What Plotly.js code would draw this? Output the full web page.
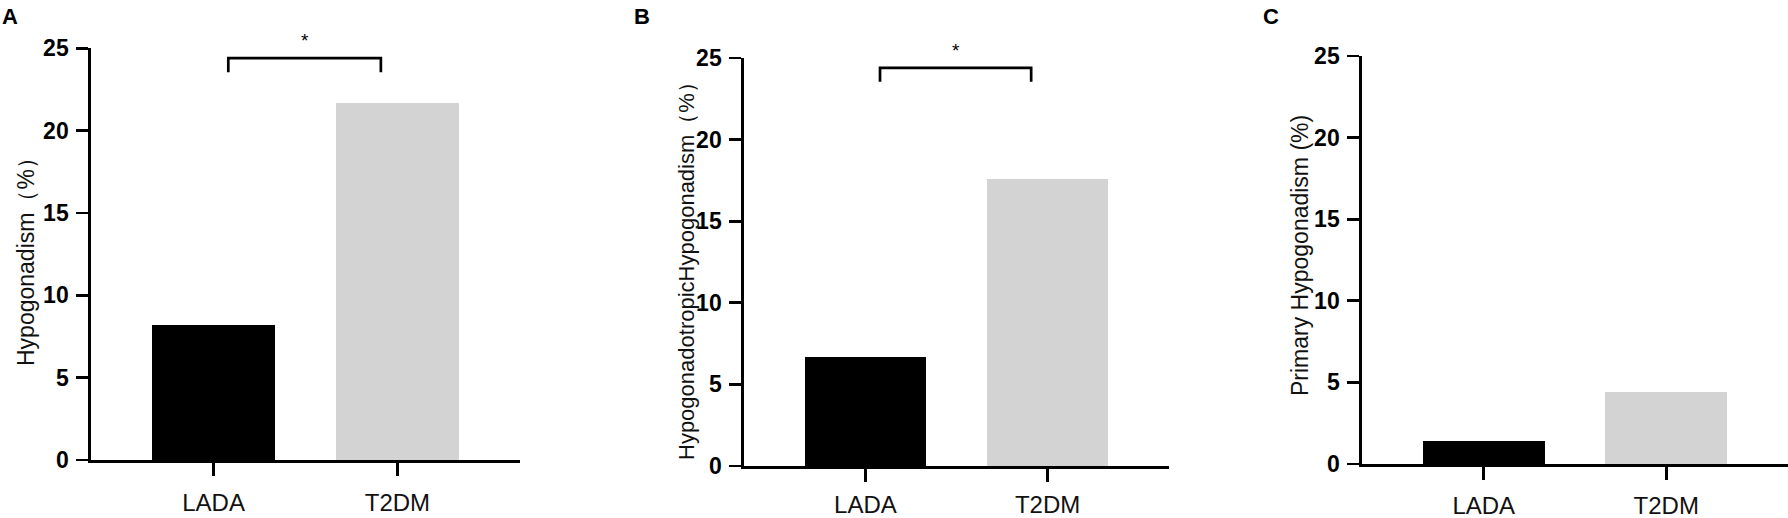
<!DOCTYPE html>
<html>
<head>
<meta charset="utf-8">
<script src="https://cdn.plot.ly/plotly-3.0.1.min.js"></script>
<style>
  html, body { margin: 0; padding: 0; background: #ffffff; }
  #chart { width: 1788px; height: 518px; }
</style>
</head>
<body>
<div id="chart"></div>
<script>
// ---- data ----
const categories = ['LADA', 'T2DM'];
const hypogonadism = [8.2, 21.7];
const hypogonadotropic = [6.7, 17.6];
const primaryHypo = [1.4, 4.4];
const yTickVals = [0, 5, 10, 15, 20, 25];
const panelLetters = ['A', 'B', 'C'];
const yTitles = ['Hypogonadism（%）', 'HypogonadotropicHypogonadism（%）', 'Primary Hypogonadism (%)'];
const significance = ['*', '*', ''];
const barColors = ['#000000', '#d3d3d3'];

// ---- layout helpers ----
const W = 1788, H = 518;
const FONT = '"Liberation Sans", Arial, Helvetica, sans-serif';
const series = [hypogonadism, hypogonadotropic, primaryHypo];

// pixel geometry per panel: [axisLeft, axisRight, yZeroPx, yTopPx]
const geom = [
  [91, 520, 460, 48.3],
  [744, 1169, 466, 58],
  [1362, 1788, 464, 56]
];
const titleX = [26, 686, 1300];
const titleY = [256, 266, 256];
const titleSize = [23, 22, 23];
const letterX = [10, 642, 1271];
const xLabelStandoff = [6, 2, 5];

const traces = [];
const layout = {
  width: W, height: H,
  margin: {l: 0, r: 0, t: 0, b: 0},
  paper_bgcolor: '#ffffff',
  plot_bgcolor: 'rgba(0,0,0,0)',
  showlegend: false,
  bargap: 0,
  annotations: [],
  shapes: []
};

series.forEach((vals, i) => {
  const n = i + 1;
  const xa = n === 1 ? 'x' : 'x' + n;
  const ya = n === 1 ? 'y' : 'y' + n;
  const [xl, xr, y0, y25] = geom[i];
  traces.push({
    type: 'bar', x: categories, y: vals,
    xaxis: xa, yaxis: ya,
    width: 0.667,
    marker: {color: barColors, line: {width: 0}},
    hoverinfo: 'skip'
  });
  const axX = {
    domain: [xl / W, Math.min(xr / W, 1)],
    anchor: ya,
    type: 'category',
    range: [-0.667, 1.667],
    showline: true, linecolor: '#000', linewidth: 2.7,
    ticks: 'outside', ticklen: 13, tickwidth: 2.7, tickcolor: '#000',
    showgrid: false, zeroline: false,
    ticklabelstandoff: xLabelStandoff[i],
    tickfont: {family: FONT, size: 24, color: '#111'},
    fixedrange: true
  };
  const axY = {
    domain: [1 - y0 / H, 1 - y25 / H],
    anchor: xa,
    range: [0, 25],
    tickvals: yTickVals,
    showline: true, linecolor: '#000', linewidth: 2.7,
    ticks: 'outside', ticklen: 12, tickwidth: 2.7, tickcolor: '#000',
    showgrid: false, zeroline: false,
    ticklabelstandoff: 3,
    tickfont: {family: FONT, size: 23, color: '#000', weight: 'bold'},
    fixedrange: true
  };
  layout['xaxis' + (n === 1 ? '' : n)] = axX;
  layout['yaxis' + (n === 1 ? '' : n)] = axY;

  // panel letter
  layout.annotations.push({
    xref: 'paper', yref: 'paper', x: letterX[i] / W, y: 1 - 16 / H,
    xanchor: 'center', yanchor: 'middle', showarrow: false,
    text: '<b>' + panelLetters[i] + '</b>',
    font: {family: FONT, size: 22, color: '#000'}
  });
  // y title
  layout.annotations.push({
    xref: 'paper', yref: 'paper', x: titleX[i] / W, y: 1 - titleY[i] / H,
    xanchor: 'center', yanchor: 'middle', showarrow: false, textangle: -90,
    text: yTitles[i],
    font: {family: FONT, size: titleSize[i], color: '#111'}
  });
  // significance bracket
  if (significance[i]) {
    const xs = [0.08, 0.91];
    const yTop = 24.4, yLeg = 23.55;
    layout.shapes.push({
      type: 'path', xref: xa, yref: ya,
      path: `M ${xs[0]} ${yLeg} L ${xs[0]} ${yTop} L ${xs[1]} ${yTop} L ${xs[1]} ${yLeg}`,
      line: {color: '#000', width: 2.7}
    });
    // star placed just above the top of the axis range (y-domain coordinates)
    layout.annotations.push({
      xref: xa, yref: ya + ' domain', x: (xs[0] + xs[1]) / 2, y: 25.45 / 25,
      xanchor: 'center', yanchor: 'middle', showarrow: false,
      text: significance[i],
      font: {family: FONT, size: 19, color: '#000'}
    });
  }
});

Plotly.newPlot('chart', traces, layout, {displayModeBar: false, staticPlot: true});
</script>
</body>
</html>
